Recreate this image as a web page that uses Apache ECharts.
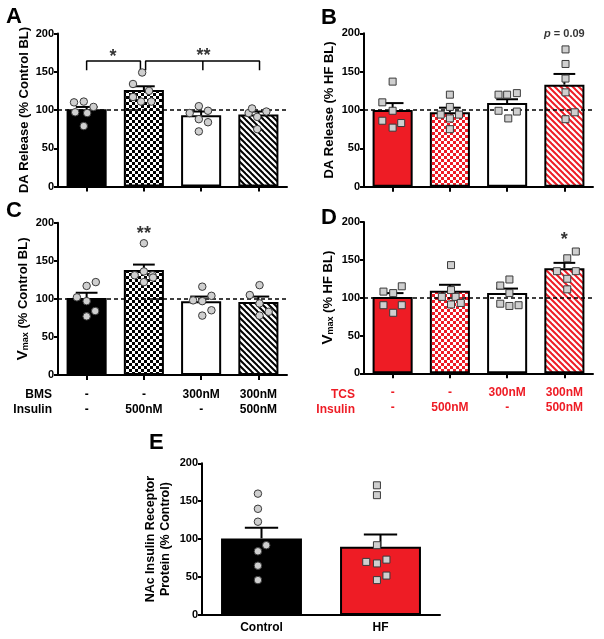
<!DOCTYPE html>
<html><head><meta charset="utf-8">
<script src="https://cdn.jsdelivr.net/npm/echarts@6/dist/echarts.min.js"></script>
<style>html,body{margin:0;padding:0;background:#fff}#c{width:604px;height:639px}</style>
</head><body><div id="c"></div>
<script>
// ---------------- data ----------------
const bmsRow = ['-', '-', '300nM', '300nM'];
const tcsRow = ['-', '-', '300nM', '300nM'];
const insulinRow = ['-', '500nM', '-', '500nM'];
const catsE = ['Control', 'HF'];

// Panel A: DA release, control (% Control BL)
const meanA = [101, 126, 93, 94];
const topA = [104, 131, 98, 98];
const ptsA = [
  [[-0.22,110],[-0.05,111],[0.12,104],[-0.2,97],[0.01,96],[-0.05,79]],
  [[-0.19,134],[-0.03,149],[0.09,125],[-0.19,117],[-0.05,111],[0.13,111]],
  [[-0.2,96],[-0.04,105],[0.12,99],[-0.04,88],[0.12,84],[-0.04,72]],
  [[-0.17,96],[-0.11,102],[-0.02,91],[0.14,98],[-0.02,75]]
];
// Panel B: DA release, HF (% HF BL)
const meanB = [100, 97, 109, 133];
const topB = [109, 103, 114, 147];
const ptsB = [
  [[0,137],[-0.18,110],[0,99],[-0.18,86],[0,77],[0.15,83]],
  [[0,120],[0,104],[-0.16,94],[0,89],[0.16,94],[0,75]],
  [[-0.15,120],[0,120],[0.17,122],[-0.15,99],[0.02,89],[0.17,98]],
  [[0.02,179],[0.02,160],[0.02,141],[0.02,123],[0.18,97],[0.02,88]]
];
// Panel C: Vmax, control
const meanC = [101, 138, 97, 96];
const topC = [108, 145, 103, 103];
const ptsC = [
  [[0,117],[0.16,122],[-0.17,102],[0,97],[0.15,84],[0,77]],
  [[0,173],[-0.16,131],[0,136],[0.15,131],[0,122],[0.16,128]],
  [[0.02,116],[-0.14,98],[0.02,97],[0.18,104],[0.18,85],[0.02,78]],
  [[0.02,118],[-0.15,105],[0.02,94],[0.18,83],[0.02,78]]
];
// Panel D: Vmax, HF
const meanD = [101, 109, 106, 139];
const topD = [106, 117, 112, 146];
const ptsD = [
  [[-0.16,108],[0.01,106],[0.16,115],[-0.16,90],[0.16,90],[0.01,80]],
  [[0.02,143],[0.02,110],[-0.14,101],[0.1,101],[0.02,91],[0.19,93]],
  [[0.04,124],[-0.12,116],[0.04,106],[-0.12,92],[0.04,89],[0.2,90]],
  [[0.2,161],[0.05,152],[-0.13,135],[0.2,135],[0.05,125],[0.05,111]]
];
// Panel E: NAc insulin receptor protein (Control = circles, HF = squares)
const meanE = [101, 90];
const topE = [115, 106];
const ptsEctrl = [[-0.03,160],[-0.03,140],[-0.03,123],[0.04,92],[-0.03,84],[-0.03,65],[-0.03,46]];
const ptsEhf = [[-0.03,171],[-0.03,158],[-0.03,92],[-0.12,70],[-0.03,68],[0.05,73],[-0.03,46],[0.05,52]];
// significance annotations
const starsA = [[0.46, 169, '*'], [2.04, 170, '**']];
const bracketsA = [
  [[0,152],[0,164],[0.94,164],[0.94,152]],
  [[1.03,152],[1.03,164],[3.02,164],[3.02,152]],
  [[2.03,164],[2.03,152]]
];
const starsC = [[1, 185, '**']];
const starsD = [[3, 176, '*']];
const pLabelB = [[3, 199, '{i|p}{n| = 0.09}']];

// ---------------- styles ----------------
const FONT = '"Liberation Sans", Arial, Helvetica, sans-serif';
const RED = '#ee1c25';

function checker(fg) {
  const c = document.createElement('canvas'); c.width = c.height = 6;
  const g = c.getContext('2d');
  g.fillStyle = '#fff'; g.fillRect(0,0,6,6);
  g.fillStyle = fg; g.fillRect(0,0,3,3); g.fillRect(3,3,3,3);
  return {image: c, repeat: 'repeat'};
}
function stripes(fg) {
  const s = 6;
  const c = document.createElement('canvas'); c.width = c.height = s;
  const g = c.getContext('2d');
  g.fillStyle = '#fff'; g.fillRect(0,0,s,s);
  g.strokeStyle = fg; g.lineWidth = 2;
  for (let k = -1; k <= 1; k++) {
    g.beginPath(); g.moveTo(k*s - 1, -1); g.lineTo(k*s + s + 1, s + 1); g.stroke();
  }
  return {image: c, repeat: 'repeat'};
}
const fillsCtrl = ['#000', checker('#000'), '#fff', stripes('#000')];
const fillsHF = [RED, checker(RED), '#fff', stripes(RED)];
const fillsE = ['#000', RED];

const grids = [], xAxes = [], yAxes = [], series = [];

function errRender(capFrac) {
  return function (params, api) {
    const i = api.value(0), m = api.value(1), t = api.value(2);
    const p0 = api.coord([i, m]), p1 = api.coord([i, t]);
    const half = api.size([1, 0])[0] * capFrac;
    const st = {stroke: '#000', lineWidth: 2};
    return {type: 'group', children: [
      {type: 'line', shape: {x1: p0[0], y1: p0[1], x2: p1[0], y2: p1[1]}, style: st},
      {type: 'line', shape: {x1: p1[0] - half, y1: p1[1], x2: p1[0] + half, y2: p1[1]}, style: st}
    ]};
  };
}

function panel(cfg) {
  const gi = grids.length;
  grids.push(cfg.grid);
  const n = cfg.means.length;
  const catIdx = xAxes.length;
  xAxes.push({
    gridIndex: gi, type: 'category', data: cfg.labels,
    axisLine: {show: true, onZero: false, lineStyle: {color: '#000', width: 2}},
    axisTick: {show: cfg.xTicks, alignWithLabel: true, length: 5, lineStyle: {color: '#000', width: 2}},
    axisLabel: {show: true, interval: 0, color: cfg.labelColor || '#000', fontFamily: FONT, fontWeight: 'bold',
      fontSize: 12, lineHeight: 15, margin: cfg.labelMargin || 8},
    splitLine: {show: false}
  });
  const valIdx = xAxes.length;
  xAxes.push({gridIndex: gi, type: 'value', min: -0.5, max: n - 0.5, show: false});
  yAxes.push({
    gridIndex: gi, type: 'value', min: 0, max: 200, interval: 50,
    axisLine: {show: true, onZero: false, lineStyle: {color: '#000', width: 2}},
    axisTick: {show: true, length: 4, lineStyle: {color: '#000', width: 2}},
    axisLabel: {color: '#000', fontFamily: FONT, fontWeight: 'bold', fontSize: 11, margin: 4},
    splitLine: {show: false},
    name: cfg.name, nameLocation: 'middle', nameGap: cfg.nameGap,
    nameTextStyle: Object.assign({color: '#000', fontFamily: FONT, fontWeight: 'bold', fontSize: 13, lineHeight: 15}, cfg.nameStyle || {})
  });
  series.push({
    type: 'bar', xAxisIndex: catIdx, yAxisIndex: gi, barWidth: cfg.barWidth, z: 2,
    itemStyle: {borderColor: '#000', borderWidth: 2},
    data: cfg.means.map((v, i) => ({value: v, itemStyle: {color: cfg.fills[i]}})),
    silent: true, animation: false
  });
  series.push({
    type: 'custom', xAxisIndex: valIdx, yAxisIndex: gi, z: 3,
    renderItem: errRender(cfg.capFrac), encode: {x: 0, y: 1},
    data: cfg.means.map((v, i) => [i, v, cfg.tops[i]]), silent: true, animation: false
  });
  if (cfg.dashed) {
    series.push({
      type: 'line', xAxisIndex: valIdx, yAxisIndex: gi, z: 4, data: [], silent: true, animation: false,
      markLine: {silent: true, symbol: 'none', label: {show: false}, animation: false,
        lineStyle: {color: '#000', type: [4, 3], width: 1.5},
        data: [{yAxis: 100}]}
    });
  }
  cfg.pts.forEach(set => {
    const flat = [];
    set.groups.forEach((grp, i) => grp.forEach(p => flat.push([set.offset + i + p[0], p[1]])));
    series.push({
      type: 'scatter', xAxisIndex: valIdx, yAxisIndex: gi, z: 5, symbol: set.symbol,
      symbolSize: set.symbol === 'circle' ? 7.5 : 7,
      itemStyle: {color: '#cfcfcf', borderColor: '#3a3a3a', borderWidth: 1, opacity: 1},
      data: flat, silent: true, animation: false
    });
  });
  (cfg.brackets || []).forEach(b => series.push({
    type: 'line', xAxisIndex: valIdx, yAxisIndex: gi, z: 5, data: b, symbol: 'none',
    lineStyle: {color: '#000', width: 1.5}, silent: true, animation: false
  }));
  if (cfg.notes) {
    series.push({
      type: 'scatter', xAxisIndex: valIdx, yAxisIndex: gi, z: 6, symbolSize: 0,
      data: cfg.notes.map(s => ({value: [s[0], s[1]], name: s[2]})), silent: true, animation: false,
      label: {show: true, position: 'inside', formatter: p => p.name, color: '#000', fontFamily: FONT,
        fontWeight: 'bold', fontSize: cfg.noteSize || 18,
        rich: {i: {fontStyle: 'italic', fontWeight: 'bold', fontSize: 11, fontFamily: FONT, color: '#000'},
               n: {fontWeight: 'bold', fontSize: 11, fontFamily: FONT, color: '#000'}}}
    });
  }
}

const vRich = () => ({
  rich: {
    v: {fontSize: 15, fontWeight: 'bold', fontFamily: FONT, color: '#000', lineHeight: 16, verticalAlign: 'bottom'},
    s: {fontSize: 9, fontWeight: 'bold', fontFamily: FONT, color: '#000', lineHeight: 16, verticalAlign: 'bottom'},
    t: {fontSize: 13, fontWeight: 'bold', fontFamily: FONT, color: '#000', lineHeight: 16, verticalAlign: 'bottom'}
  }
});

panel({grid: {left: 58, top: 33.5, width: 229, height: 153}, labels: ['', '', '', ''], xTicks: true,
  means: meanA, tops: topA, pts: [{groups: ptsA, symbol: 'circle', offset: 0}], fills: fillsCtrl,
  barWidth: '70%', capFrac: 0.19,
  name: 'DA Release (% Control BL)', nameGap: 26, dashed: true, brackets: bracketsA, notes: starsA});
panel({grid: {left: 364, top: 33.3, width: 229, height: 153.4}, labels: ['', '', '', ''], xTicks: true,
  means: meanB, tops: topB, pts: [{groups: ptsB, symbol: 'rect', offset: 0}], fills: fillsHF,
  barWidth: '70%', capFrac: 0.19,
  name: 'DA Release (% HF BL)', nameGap: 27, dashed: true, notes: pLabelB, noteSize: 11});
panel({grid: {left: 58, top: 222.7, width: 229, height: 152.3},
  labels: bmsRow.map((b, i) => b + '\n' + insulinRow[i]), xTicks: true, labelMargin: 12,
  means: meanC, tops: topC, pts: [{groups: ptsC, symbol: 'circle', offset: 0}], fills: fillsCtrl,
  barWidth: '70%', capFrac: 0.19,
  name: '{v|V}{s|max}{t| (% Control BL)}', nameGap: 28, nameStyle: vRich(), dashed: true, notes: starsC});
panel({grid: {left: 364, top: 222, width: 229, height: 151.3},
  labels: tcsRow.map((b, i) => b + '\n' + insulinRow[i]), xTicks: true, labelMargin: 12, labelColor: RED,
  means: meanD, tops: topD, pts: [{groups: ptsD, symbol: 'rect', offset: 0}], fills: fillsHF,
  barWidth: '70%', capFrac: 0.19,
  name: '{v|V}{s|max}{t| (% HF BL)}', nameGap: 29, nameStyle: vRich(), dashed: true, notes: starsD});
panel({grid: {left: 202, top: 463.3, width: 238, height: 151.7}, labels: catsE, xTicks: false, labelMargin: 5,
  means: meanE, tops: topE,
  pts: [{groups: [ptsEctrl], symbol: 'circle', offset: 0}, {groups: [ptsEhf], symbol: 'rect', offset: 1}],
  fills: fillsE, barWidth: '68%', capFrac: 0.14,
  name: 'NAc Insulin Receptor\nProtein (% Control)', nameGap: 29, nameStyle: {fontSize: 12.5, lineHeight: 15}, dashed: false});

const letter = (t, x, y) => ({type: 'text', left: x, top: y,
  style: {text: t, fontSize: 22, fontWeight: 'bold', fontFamily: FONT, fill: '#000'}});
const rowLabel = (t, x, y, c) => ({type: 'text', x: x, y: y,
  style: {text: t, fontSize: 12, fontWeight: 'bold', fontFamily: FONT, fill: c, align: 'right', verticalAlign: 'middle'}});

const chart = echarts.init(document.getElementById('c'), null, {renderer: 'canvas'});
chart.setOption({
  backgroundColor: '#fff', animation: false,
  grid: grids, xAxis: xAxes, yAxis: yAxes, series: series,
  graphic: [
    letter('A', 6, 6), letter('B', 321, 7), letter('C', 6, 200), letter('D', 321, 207), letter('E', 149, 432),
    rowLabel('BMS', 52, 395, '#000'), rowLabel('Insulin', 52, 410, '#000'),
    rowLabel('TCS', 355, 395, RED), rowLabel('Insulin', 355, 410, RED)
  ]
});
</script></body></html>
